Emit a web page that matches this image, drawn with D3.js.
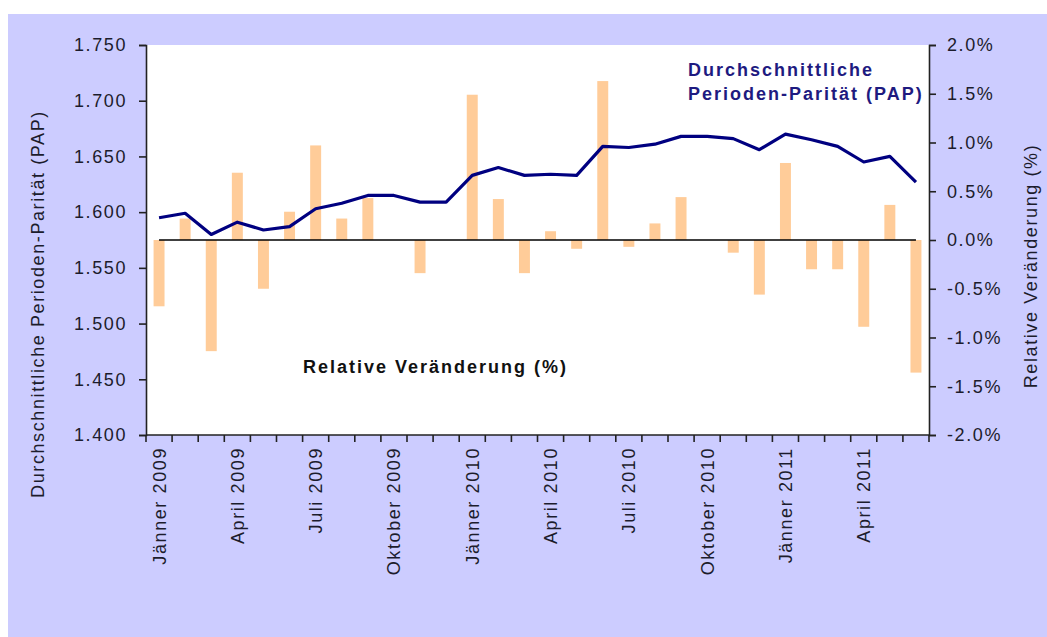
<!DOCTYPE html>
<html lang="de">
<head>
<meta charset="utf-8">
<title>Durchschnittliche Perioden-Parität</title>
<script src="https://d3js.org/d3.v7.min.js"></script>
<style>
  body { margin: 0; background: #fff; }
  svg text { font-family: "Liberation Sans", Arial, sans-serif; }
</style>
</head>
<body>
<div id="chart"></div>
<script>
// Monate Jänner 2009 bis Juni 2011
const months = [
  "Jänner 2009","Februar 2009","März 2009","April 2009","Mai 2009","Juni 2009",
  "Juli 2009","August 2009","September 2009","Oktober 2009","November 2009","Dezember 2009",
  "Jänner 2010","Februar 2010","März 2010","April 2010","Mai 2010","Juni 2010",
  "Juli 2010","August 2010","September 2010","Oktober 2010","November 2010","Dezember 2010",
  "Jänner 2011","Februar 2011","März 2011","April 2011","Mai 2011","Juni 2011"
];
// nur jeder dritte Monat wird beschriftet
const shownLabels = ["Jänner 2009","April 2009","Juli 2009","Oktober 2009","Jänner 2010",
  "April 2010","Juli 2010","Oktober 2010","Jänner 2011","April 2011"];

// Durchschnittliche Perioden-Parität (linke Achse)
const pap = [1.595, 1.599, 1.580, 1.591, 1.584, 1.587, 1.603, 1.608, 1.615, 1.615,
  1.609, 1.609, 1.633, 1.640, 1.633, 1.634, 1.633, 1.659, 1.658, 1.661,
  1.668, 1.668, 1.666, 1.656, 1.670, 1.665, 1.659, 1.645, 1.650, 1.627];

// Relative Veränderung in % (rechte Achse)
const change = [-0.68, 0.22, -1.14, 0.69, -0.50, 0.29, 0.97, 0.22, 0.43, 0.00,
  -0.34, 0.00, 1.49, 0.42, -0.34, 0.09, -0.09, 1.63, -0.07, 0.17,
  0.44, 0.00, -0.13, -0.56, 0.79, -0.30, -0.30, -0.89, 0.36, -1.36];

const leftTicks = [1.400, 1.450, 1.500, 1.550, 1.600, 1.650, 1.700, 1.750];
const rightTicks = [-2.0, -1.5, -1.0, -0.5, 0.0, 0.5, 1.0, 1.5, 2.0];

const width = 1047, height = 637;
const plot = { left: 146, right: 929, top: 45, bottom: 435 };
const textColor = "#1c1c2c";
const fontSize = "18px", spacing = "1.6px";

const svg = d3.select("#chart").append("svg")
  .attr("width", width)
  .attr("height", height);

// lila Hintergrund mit weissem Rand oben/links
svg.append("rect").attr("x", 8).attr("y", 14)
  .attr("width", width - 8).attr("height", height - 14)
  .attr("fill", "#ccccff");

svg.append("rect")
  .attr("x", plot.left).attr("y", plot.top)
  .attr("width", plot.right - plot.left).attr("height", plot.bottom - plot.top)
  .attr("fill", "#ffffff");

const x = d3.scaleBand().domain(months).range([plot.left, plot.right]);
const yL = d3.scaleLinear().domain([1.4, 1.75]).range([plot.bottom, plot.top]);
const yR = d3.scaleLinear().domain([-2, 2]).range([plot.bottom, plot.top]);

const barW = x.bandwidth() * 0.42;
const cx = d => x(d) + x.bandwidth() / 2;

// Balken: relative Veränderung
svg.append("g").selectAll("rect")
  .data(months)
  .enter().append("rect")
  .attr("x", (d) => cx(d) - barW / 2)
  .attr("y", (d, i) => yR(Math.max(0, change[i])))
  .attr("width", barW)
  .attr("height", (d, i) => Math.abs(yR(change[i]) - yR(0)))
  .attr("fill", "#ffcc99");

// Nulllinie
svg.append("line")
  .attr("x1", cx(months[0])).attr("x2", cx(months[months.length - 1]))
  .attr("y1", yR(0)).attr("y2", yR(0))
  .attr("stroke", "#000").attr("stroke-width", 1.6);

// Linie: PAP
const line = d3.line()
  .x((d, i) => cx(months[i]))
  .y(d => yL(d));

svg.append("path")
  .datum(pap)
  .attr("d", line)
  .attr("fill", "none")
  .attr("stroke", "#000080")
  .attr("stroke-width", 3.2)
  .attr("stroke-linejoin", "round");

// Achsen
function styleAxis(g) {
  g.selectAll("path, line").attr("stroke", "#222").attr("stroke-width", 1.6);
  g.selectAll("text")
    .attr("fill", textColor)
    .style("font-size", fontSize)
    .style("letter-spacing", spacing);
}

svg.append("g")
  .attr("transform", `translate(${plot.left},0)`)
  .call(d3.axisLeft(yL).tickValues(leftTicks).tickFormat(d3.format(".3f"))
    .tickSizeOuter(0).tickSize(7).tickPadding(12))
  .call(styleAxis);

svg.append("g")
  .attr("transform", `translate(${plot.right},0)`)
  .call(d3.axisRight(yR).tickValues(rightTicks).tickFormat(d => d.toFixed(1) + "%")
    .tickSizeOuter(0).tickSize(7).tickPadding(11))
  .call(styleAxis);

// x-Achse: Striche an den Monatsgrenzen
const xAxis = svg.append("g").attr("transform", `translate(0,${plot.bottom})`);
xAxis.append("line")
  .attr("x1", plot.left).attr("x2", plot.right)
  .attr("stroke", "#222").attr("stroke-width", 1.6);
xAxis.selectAll("line.tick")
  .data(months.concat(["end"]))
  .enter().append("line")
  .attr("class", "tick")
  .attr("x1", (d, i) => i < months.length ? x(d) : plot.right)
  .attr("x2", (d, i) => i < months.length ? x(d) : plot.right)
  .attr("y1", 0).attr("y2", 7)
  .attr("stroke", "#222").attr("stroke-width", 1.6);

xAxis.selectAll("text")
  .data(shownLabels)
  .enter().append("text")
  .attr("transform", d => `translate(${cx(d) + 6.5},12) rotate(-90)`)
  .attr("text-anchor", "end")
  .attr("fill", textColor)
  .style("font-size", fontSize)
  .style("letter-spacing", spacing)
  .text(d => d);

// Achsentitel
svg.append("text")
  .attr("transform", `translate(43.5,304) rotate(-90)`)
  .attr("text-anchor", "middle")
  .attr("fill", textColor)
  .style("font-size", fontSize)
  .style("letter-spacing", spacing)
  .text("Durchschnittliche Perioden-Parität (PAP)");

svg.append("text")
  .attr("transform", `translate(1036.5,266) rotate(-90)`)
  .attr("text-anchor", "middle")
  .attr("fill", textColor)
  .style("font-size", fontSize)
  .style("letter-spacing", spacing)
  .text("Relative Veränderung (%)");

// Beschriftungen im Diagramm
const lbl = svg.append("text")
  .attr("x", 688).attr("y", 76)
  .attr("fill", "#1e1a80")
  .style("font-size", "18px")
  .style("font-weight", "bold")
  .style("letter-spacing", "2px");
lbl.append("tspan").attr("x", 688).text("Durchschnittliche");
lbl.append("tspan").attr("x", 688).attr("dy", 24).text("Perioden-Parität (PAP)");

svg.append("text")
  .attr("x", 303).attr("y", 373)
  .attr("fill", "#111")
  .style("font-size", "18px")
  .style("font-weight", "bold")
  .style("letter-spacing", "2px")
  .text("Relative Veränderung (%)");
</script>
</body>
</html>
